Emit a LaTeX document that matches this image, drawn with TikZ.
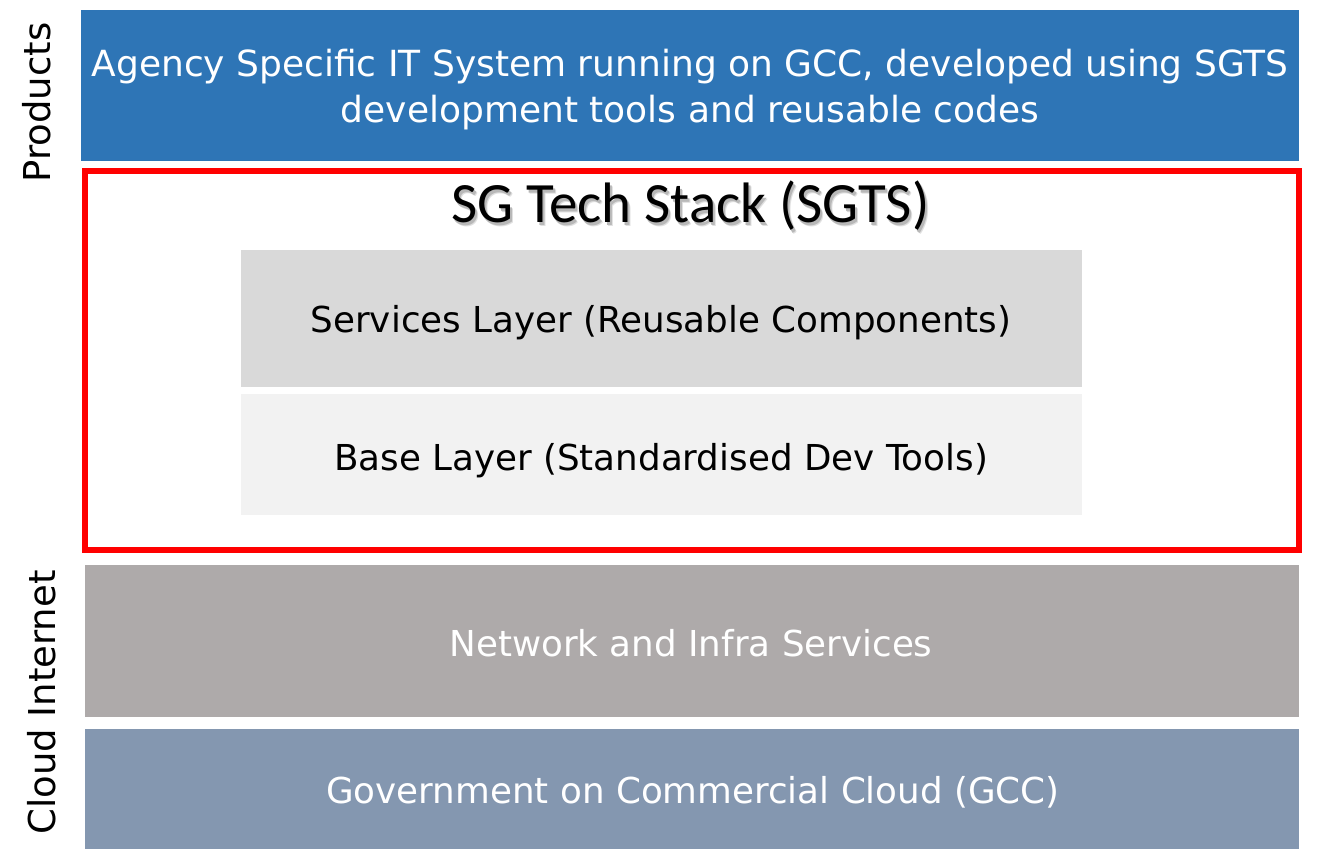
\documentclass[tikz,border=0pt]{standalone}
\usepackage{fontspec}
\setmainfont{DejaVu Sans}
\newfontfamily\calfont{Carlito}
\definecolor{prodblue}{HTML}{2E75B6}
\definecolor{netgrey}{HTML}{AEAAAA}
\definecolor{gccblue}{HTML}{8497B0}
\definecolor{svcgrey}{HTML}{D9D9D9}
\definecolor{basegrey}{HTML}{F2F2F2}
\definecolor{sgtsred}{HTML}{FF0000}
\newcommand{\sgtsshadowed}[1]{%
  \makebox[0pt][l]{\hspace{3pt}\raisebox{-3.5pt}{\textcolor{black!12}{#1}}}%
  \makebox[0pt][l]{\hspace{2pt}\raisebox{-2.5pt}{\textcolor{black!28}{#1}}}%
  #1}
\begin{document}
\begin{tikzpicture}[x=1pt,y=-1pt,
  wtext/.style={text=white,inner sep=0pt,font=\fontsize{35.7}{46}\selectfont},
  btext/.style={text=black,inner sep=0pt,font=\fontsize{35.7}{40}\selectfont},
  titletext/.style={inner sep=0pt,anchor=base,font=\calfont\fontsize{57}{60}\selectfont},
  sidetext/.style={text=black,inner sep=0pt,rotate=90,anchor=base,font=\fontsize{37}{40}\selectfont}]
\useasboundingbox[fill=white] (0,0) rectangle (1325,858);
% boxes
\fill[prodblue] (81,10) rectangle (1299,161);
\draw[sgtsred,line width=6pt] (85,171) rectangle (1299,550);
\fill[svcgrey] (241,250) rectangle (1082,387);
\fill[basegrey] (241,394) rectangle (1082,515);
\fill[netgrey] (85,565) rectangle (1299,717);
\fill[gccblue] (85,729) rectangle (1299,849);
% texts
\node[wtext,anchor=base,align=center,font=\fontsize{36}{46}\selectfont] (prod) at (690,123) {Agency Specific IT System running on GCC, developed using SGTS\\development tools and reusable codes};
\node[titletext,text=black] (title) at (690.5,223) {\sgtsshadowed{SG Tech Stack (SGTS)}};
\node[btext,anchor=base] (svc) at (661,333) {Services Layer (Reusable Components)};
\node[btext,anchor=base] (base) at (661,470) {Base Layer (Standardised Dev Tools)};
\node[wtext,anchor=base] (net) at (691,656) {Network and Infra Services};
\node[wtext,anchor=base] (gcc) at (693,803) {Government on Commercial Cloud (GCC)};
\node[sidetext] (products) at (50,102.5) {Products};
\node[sidetext] (cloud) at (55,702.5) {Cloud Internet};
\end{tikzpicture}
\end{document}
